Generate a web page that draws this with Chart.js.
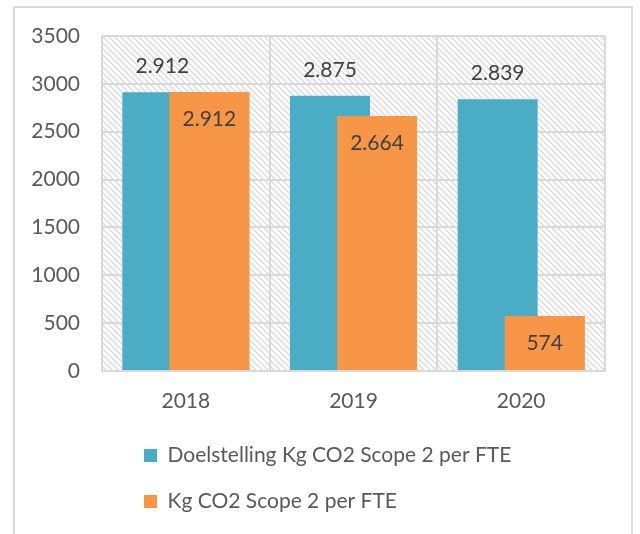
<!DOCTYPE html>
<html>
<head>
<meta charset="utf-8">
<script src="https://cdn.jsdelivr.net/npm/chart.js@4"></script>
<style>
  html, body { margin: 0; padding: 0; background: #fff; }
  #wrap { width: 640px; height: 534px; }
</style>
</head>
<body>
<div id="wrap"><canvas id="chart" width="640" height="534"></canvas></div>
<script>
const years = ['2018', '2019', '2020'];
const doelstelling = [2912, 2875, 2839];
const werkelijk = [2912, 2664, 574];
const yMin = 0;
const yMax = 3500;
const yStep = 500;

const labelTeal = 'Doelstelling Kg CO2 Scope 2 per FTE';
const labelOrange = 'Kg CO2 Scope 2 per FTE';

// Dutch thousands separator: 2912 -> 2.912
function fmt(v) {
  return String(v).replace(/\B(?=(\d{3})+(?!\d))/g, '.');
}

function makeHatch() {
  const c = document.createElement('canvas');
  c.width = 6; c.height = 6;
  const g = c.getContext('2d');
  g.fillStyle = '#ffffff';
  g.fillRect(0, 0, 6, 6);
  g.strokeStyle = '#dadada';
  g.lineWidth = 1.4;
  g.beginPath();
  g.moveTo(0, 0); g.lineTo(6, 6);
  g.moveTo(-1, 5); g.lineTo(1, 7);
  g.moveTo(5, -1); g.lineTo(7, 1);
  g.stroke();
  return c;
}

const hatchPlugin = {
  id: 'hatch',
  beforeDraw(chart) {
    const ctx = chart.ctx;
    const a = chart.chartArea;
    ctx.save();
    ctx.fillStyle = '#ffffff';
    ctx.fillRect(0, 0, chart.width, chart.height);
    ctx.strokeStyle = '#d9d9d9';
    ctx.lineWidth = 2;
    ctx.strokeRect(14, 7, 618, 540);
    ctx.fillStyle = ctx.createPattern(makeHatch(), 'repeat');
    ctx.fillRect(a.left, a.top, a.right - a.left, a.bottom - a.top);
    ctx.restore();
  }
};

const legendPlace = {
  id: 'legendPlace',
  afterLayout(chart) {
    chart.legend.left = 119;
    chart.legend.top = 420;
  }
};

const barLabels = {
  id: 'barLabels',
  afterDatasetsDraw(chart) {
    // orange bars sit on top of the teal ones
    chart.getDatasetMeta(1).controller.draw();

    const ctx = chart.ctx;
    ctx.save();
    ctx.font = '21px Lato';
    ctx.fillStyle = '#404040';
    ctx.textAlign = 'center';
    ctx.textBaseline = 'middle';
    chart.getDatasetMeta(0).data.forEach((bar, i) => {
      ctx.fillText(fmt(doelstelling[i]), bar.x, bar.y - 26);
    });
    chart.getDatasetMeta(1).data.forEach((bar, i) => {
      ctx.fillText(fmt(werkelijk[i]), bar.x, bar.y + 27);
    });
    ctx.restore();
  }
};

const ctx = document.getElementById('chart').getContext('2d');
new Chart(ctx, {
  type: 'bar',
  data: {
    labels: years,
    datasets: [{
      label: labelTeal,
      data: doelstelling,
      backgroundColor: '#4bacc6',
      borderWidth: 0,
      categoryPercentage: 0.561,
      barPercentage: 1.7
    }, {
      label: labelOrange,
      data: werkelijk,
      backgroundColor: '#f79646',
      borderWidth: 0,
      categoryPercentage: 0.561,
      barPercentage: 1.7
    }]
  },
  options: {
    responsive: false,
    animation: false,
    layout: {
      padding: { left: 14, top: 36, right: 35, bottom: 0 }
    },
    scales: {
      x: {
        grid: { color: '#d9d9d9', lineWidth: 2, drawTicks: false, offset: true },
        border: { color: '#d9d9d9', width: 2 },
        ticks: { color: '#595959', font: { family: 'Lato', size: 21 }, padding: 18 },
        afterFit(scale) { scale.height = 163 - scale.chart.legend.height; }
      },
      y: {
        min: yMin,
        max: yMax,
        grid: { color: '#d9d9d9', lineWidth: 2, drawTicks: false },
        border: { color: '#d9d9d9', width: 2 },
        ticks: {
          stepSize: yStep,
          color: '#595959',
          font: { family: 'Lato', size: 21 },
          padding: 22,
          callback: (v) => String(v)
        },
        afterFit(scale) { scale.width = 88; }
      }
    },
    plugins: {
      legend: {
        position: 'bottom',
        align: 'start',
        labels: {
          boxWidth: 13,
          boxHeight: 13,
          padding: 25,
          color: '#595959',
          font: { family: 'Lato', size: 21 }
        }
      },
      tooltip: { enabled: false }
    }
  },
  plugins: [hatchPlugin, legendPlace, barLabels]
});
</script>
</body>
</html>
